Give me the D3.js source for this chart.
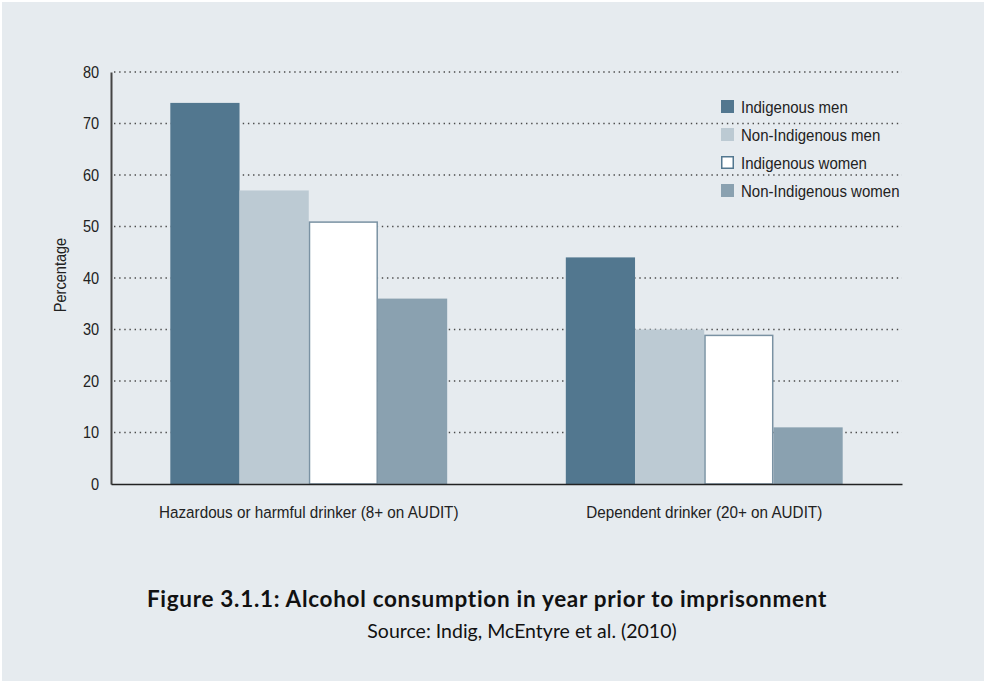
<!DOCTYPE html>
<html>
<head>
<meta charset="utf-8">
<script src="https://cdn.jsdelivr.net/npm/d3@7"></script>
<style>
  html, body { margin: 0; padding: 0; background: #ffffff; }
  svg { display: block; }
</style>
</head>
<body>
<svg id="chart" width="984" height="681"></svg>
<script>
// Alcohol consumption in year prior to imprisonment, by group
const categories = ["Hazardous or harmful drinker (8+ on AUDIT)", "Dependent drinker (20+ on AUDIT)"];
const seriesNames = ["Indigenous men", "Non-Indigenous men", "Indigenous women", "Non-Indigenous women"];
const indigenousMen = [74, 44];
const nonIndigenousMen = [57, 30];
const indigenousWomen = [51, 29];
const nonIndigenousWomen = [36, 11];
const yTicks = [0, 10, 20, 30, 40, 50, 60, 70, 80];

const seriesValues = [indigenousMen, nonIndigenousMen, indigenousWomen, nonIndigenousWomen];
const fills = ["#52778f", "#bccad3", "#ffffff", "#8aa1b0"];
const strokes = [null, null, "#7a92a3", null];
const labelFont = "'Liberation Sans', Arial, sans-serif";
const squeeze = 0.91;   // horizontal condensing for chart labels

(function draw() {
  const svg = d3.select("#chart");
  const W = 984, H = 681;

  // panel background
  svg.append("rect").attr("x", 2).attr("y", 2).attr("width", W - 2).attr("height", H - 2)
    .attr("fill", "#e6ebef");

  const plotLeft = 111, plotRight = 902, plotTop = 72, plotBottom = 484;

  const x0 = d3.scaleBand().domain(categories).range([plotLeft, plotRight]);
  const x1 = d3.scaleBand().domain(seriesNames).range([0, x0.bandwidth()]).paddingOuter(0.857);
  const y = d3.scaleLinear().domain([0, 80]).range([plotBottom, plotTop]);

  // dotted gridlines
  svg.append("g").selectAll("line").data(yTicks.filter(d => d > 0)).join("line")
    .attr("x1", plotLeft + 3).attr("x2", plotRight)
    .attr("y1", d => y(d)).attr("y2", d => y(d))
    .attr("stroke", "#4a4a4a").attr("stroke-width", 1.3).attr("stroke-dasharray", "1.4,3.75");

  // bars
  const groups = svg.append("g").selectAll("g").data(categories).join("g")
    .attr("transform", d => `translate(${x0(d)},0)`);
  groups.selectAll("rect")
    .data((c, ci) => seriesNames.map((s, si) => ({ s, si, v: seriesValues[si][ci] })))
    .join("rect")
    .attr("x", d => x1(d.s) + (strokes[d.si] ? 0.75 : 0))
    .attr("width", d => x1.bandwidth() - (strokes[d.si] ? 1.5 : 0))
    .attr("y", d => y(d.v) + (strokes[d.si] ? 0.75 : 0))
    .attr("height", d => y(0) - y(d.v) - (strokes[d.si] ? 0.75 : 0))
    .attr("fill", d => fills[d.si])
    .attr("stroke", d => strokes[d.si] || "none")
    .attr("stroke-width", 1.5);

  // y axis
  const yAxis = svg.append("g").attr("transform", `translate(${plotLeft},0)`)
    .call(d3.axisLeft(y).tickValues(yTicks).tickSize(0).tickPadding(13));
  yAxis.select(".domain").attr("stroke", "#444").attr("stroke-width", 2);
  yAxis.selectAll("text").attr("font-size", 16).attr("fill", "#222")
    .attr("transform", `scale(${squeeze},1)`)
    .style("font-family", labelFont);

  // x baseline
  const xAxis = svg.append("g").attr("transform", `translate(0,${plotBottom})`)
    .call(d3.axisBottom(x0).tickSize(0).tickPadding(22));
  xAxis.select(".domain").attr("stroke", "#222").attr("stroke-width", 1.5);
  xAxis.selectAll("text").attr("font-size", 16.5).attr("fill", "#222")
    .attr("transform", `scale(0.925,1)`)
    .style("font-family", labelFont);

  // y axis title
  svg.append("text")
    .attr("transform", `translate(66,${(plotTop + plotBottom) / 2 - 3}) rotate(-90) scale(${squeeze},1)`)
    .attr("text-anchor", "middle").attr("font-size", 16).attr("fill", "#222")
    .style("font-family", labelFont)
    .text("Percentage");

  // legend
  const legend = svg.append("g").attr("transform", "translate(721,100)");
  const row = legend.selectAll("g").data(seriesNames).join("g")
    .attr("transform", (d, i) => `translate(0,${i * 28})`);
  row.append("rect").attr("x", 0.75).attr("y", 0.75).attr("width", 11.5).attr("height", 11.5)
    .attr("fill", (d, i) => fills[i])
    .attr("stroke", (d, i) => strokes[i] ? "#52778f" : fills[i]).attr("stroke-width", 1.5);
  row.append("text").attr("transform", `translate(20,12.5) scale(${squeeze},1)`)
    .attr("font-size", 16.5).attr("fill", "#222")
    .style("font-family", labelFont)
    .text(d => d);

  // caption
  svg.append("text").attr("x", 487).attr("y", 607).attr("text-anchor", "middle")
    .attr("font-size", 22.5).attr("font-weight", "bold").attr("fill", "#111")
    .attr("letter-spacing", 0.7)
    .style("font-family", "Lato, 'DejaVu Sans', sans-serif")
    .text("Figure 3.1.1: Alcohol consumption in year prior to imprisonment");
  svg.append("text").attr("x", 522).attr("y", 638).attr("text-anchor", "middle")
    .attr("font-size", 19.5).attr("fill", "#111")
    .style("font-family", "Lato, 'DejaVu Sans', sans-serif")
    .text("Source: Indig, McEntyre et al. (2010)");
})();
</script>
</body>
</html>
